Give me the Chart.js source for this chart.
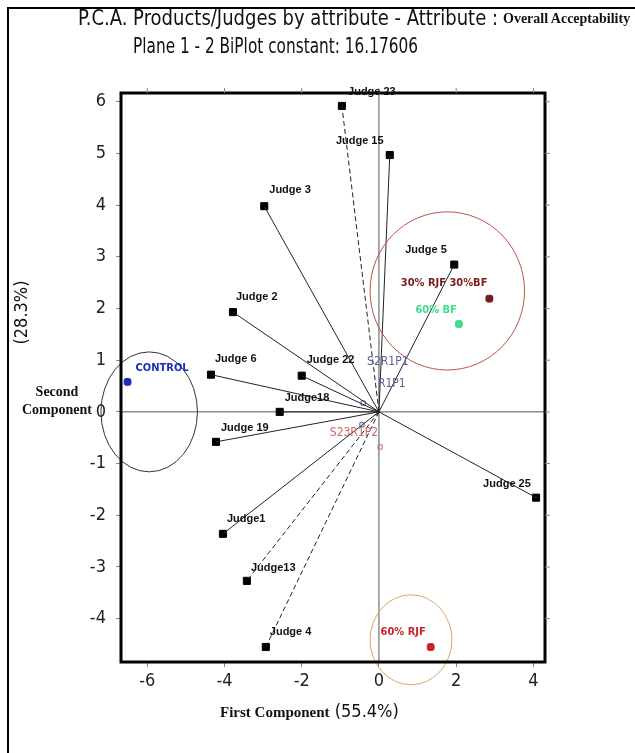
<!DOCTYPE html>
<html>
<head>
<meta charset="utf-8">
<script src="https://cdn.jsdelivr.net/npm/chart.js@4.4.0/dist/chart.umd.min.js"></script>
<style>
  body { margin: 0; background: #fff; width: 635px; height: 753px; overflow: hidden; position: relative; }
  #frame { position: absolute; left: 7px; top: 7px; width: 700px; height: 800px; border-left: 2px solid #000; border-top: 2px solid #000; }
  #wrap { position: absolute; left: 0; top: 0; width: 635px; height: 753px; }
  .t { position: absolute; white-space: nowrap; font-family: "DejaVu Sans Condensed", "Liberation Sans", Arial, sans-serif; color: #111; }
  .serif { font-family: "Liberation Serif", "DejaVu Serif", serif; font-weight: bold; color: #111; }
  .fit { transform-origin: left center; }
</style>
</head>
<body>
<div id="frame"></div>
<div id="wrap"><canvas id="c" width="635" height="753"></canvas></div>

<div class="t fit" data-w="420" style="left:78px;top:5px;font-size:22px">P.C.A. Products/Judges by attribute - Attribute :</div>
<div class="serif" style="position:absolute;left:503px;top:11px;font-size:14px;white-space:nowrap">Overall Acceptability</div>
<div class="t fit" data-w="285" style="left:133px;top:33px;font-size:22px">Plane 1 - 2 BiPlot constant: 16.17606</div>
<div class="t fit" data-w="62" style="left:-12px;top:302px;font-size:18px;transform-origin:center;transform:rotate(-90deg)">(28.3%)</div>
<div class="serif" style="position:absolute;left:14px;top:383px;width:86px;text-align:center;font-size:14px;line-height:18px">Second<br>Component</div>
<div class="t" style="left:220px;top:700px;font-size:18px"><span class="serif" style="font-size:15px">First Component</span> (55.4%)</div>

<script>
  // ajuste la largeur des titres
  document.querySelectorAll(".fit[data-w]").forEach((el) => {
    if (el.style.transform) return;
    const w = el.getBoundingClientRect().width;
    el.style.transform = "scaleX(" + (Number(el.dataset.w) / w) + ")";
  });

  // Axes
  const xTicks = [-6, -4, -2, 0, 2, 4];
  const yTicks = [-4, -3, -2, -1, 0, 1, 2, 3, 4, 5, 6];

  // Juges (coordonnees sur le plan 1-2)
  const judgeNames = ["Judge 23", "Judge 15", "Judge 3", "Judge 5", "Judge 2", "Judge 6", "Judge 22",
    "Judge18", "Judge 19", "Judge 25", "Judge1", "Judge13", "Judge 4"];
  const judgeX = [-0.96, 0.28, -2.97, 1.95, -3.78, -4.35, -2.0, -2.57, -4.22, 4.07, -4.04, -3.42, -2.93];
  const judgeY = [5.92, 4.97, 3.98, 2.85, 1.93, 0.72, 0.70, 0.0, -0.58, -1.66, -2.36, -3.27, -4.55];

  // Produits
  const productNames = ["CONTROL", "30% RJF 30%BF", "60% BF", "60% RJF"];
  const productX = [-6.51, 2.86, 2.07, 1.34];
  const productY = [0.58, 2.19, 1.70, -4.55];

  // Sessions / repetitions
  const sessionNames = ["S2R1P1", "R1P1", "S23R1P2"];
  const sessionX = [-0.41, -0.44, 0.03];
  const sessionY = [0.17, -0.25, -0.68];

  // Cercles de regroupement (centre x, centre y, rayon x, rayon y)
  const groupCx = [-5.95, 1.77, 0.83];
  const groupCy = [0.0, 2.34, -4.41];
  const groupRx = [1.25, 2.0, 1.06];
  const groupRy = [1.16, 1.53, 0.87];

  const dashedJudges = ["Judge 23", "Judge13", "Judge 4"];
  const productColors = ["#1c2fb0", "#7a1a1a", "#3fdc8c", "#c8232a"];
  const sessionColors = ["#5a5e9c", "#5a5e9c", "#c86a6a"];
  const groupColors = ["#333", "#c0504d", "#d9a866"];

  // decalages des etiquettes (px) : [dx, dy, align]
  const judgeLabelPos = [[30, -14, "center"], [-30, -14, "center"], [5, -16, "left"], [-49, -15, "left"],
    [3, -15, "left"], [4, -16, "left"], [5, -16, "left"], [5, -14, "left"], [5, -14, "left"],
    [-53, -14, "left"], [4, -15, "left"], [4, -13, "left"], [4, -15, "left"]];
  const productLabelPos = [[8, -14, "left"], [-2, -16, "right"], [-2, -14, "right"], [-5, -15, "right"]];
  const sessionLabelPos = [[4, -41, "left"], [16, -41, "left"], [-2, -14, "right"]];

  const datasets = [];

  // Vecteurs depuis l'origine vers chaque juge
  judgeNames.forEach((name, i) => {
    datasets.push({
      type: "line",
      data: [{ x: 0, y: 0 }, { x: judgeX[i], y: judgeY[i] }],
      borderColor: "#222",
      borderWidth: 1,
      borderDash: dashedJudges.includes(name) ? [5, 3] : [],
      pointRadius: 0,
      showLine: true,
    });
  });

  const JUDGES = datasets.length;
  datasets.push({
    data: judgeX.map((x, i) => ({ x: x, y: judgeY[i] })),
    pointStyle: "rect",
    pointRadius: 5,
    backgroundColor: "#000",
    borderColor: "#000",
  });

  const PRODUCTS = datasets.length;
  datasets.push({
    data: productX.map((x, i) => ({ x: x, y: productY[i] })),
    pointStyle: "rectRounded",
    pointRadius: 4,
    backgroundColor: productColors,
    borderColor: productColors,
  });

  const SESSIONS = datasets.length;
  datasets.push({
    data: sessionX.map((x, i) => ({ x: x, y: sessionY[i] })),
    pointStyle: "rect",
    pointRadius: 3,
    backgroundColor: "rgba(0,0,0,0)",
    borderColor: sessionColors,
    borderWidth: 1,
  });

  function drawLabels(ctx, meta, names, pos, colors, font) {
    ctx.font = font;
    ctx.textBaseline = "middle";
    names.forEach((n, i) => {
      const p = meta.data[i];
      ctx.fillStyle = Array.isArray(colors) ? colors[i] : colors;
      ctx.textAlign = pos[i][2];
      ctx.fillText(n, p.x + pos[i][0], p.y + pos[i][1]);
    });
  }

  const biplot = {
    id: "biplot",
    beforeDatasetsDraw(chart) {
      const { ctx, chartArea: a, scales: { x, y } } = chart;
      ctx.save();
      // axes du plan
      ctx.strokeStyle = "#555";
      ctx.lineWidth = 1;
      ctx.beginPath();
      ctx.moveTo(x.getPixelForValue(0), a.top);
      ctx.lineTo(x.getPixelForValue(0), a.bottom);
      ctx.moveTo(a.left, y.getPixelForValue(0));
      ctx.lineTo(a.right, y.getPixelForValue(0));
      ctx.stroke();
      ctx.restore();
    },
    afterDraw(chart) {
      const { ctx, chartArea: a, scales: { x, y } } = chart;
      ctx.save();
      // cercles
      groupCx.forEach((cx, i) => {
        const px = x.getPixelForValue(cx), py = y.getPixelForValue(groupCy[i]);
        const rx = Math.abs(x.getPixelForValue(cx + groupRx[i]) - px);
        const ry = Math.abs(y.getPixelForValue(groupCy[i] + groupRy[i]) - py);
        ctx.strokeStyle = groupColors[i];
        ctx.lineWidth = 1;
        ctx.beginPath();
        ctx.ellipse(px, py, rx, ry, 0, 0, Math.PI * 2);
        ctx.stroke();
      });
      // cadre
      ctx.strokeStyle = "#000";
      ctx.lineWidth = 3;
      ctx.strokeRect(a.left, a.top, a.right - a.left, a.bottom - a.top);
      // graduations haut et droite
      ctx.strokeStyle = "#888";
      ctx.lineWidth = 1;
      ctx.beginPath();
      xTicks.forEach((v) => {
        const px = x.getPixelForValue(v);
        ctx.moveTo(px, a.top - 5);
        ctx.lineTo(px, a.top);
      });
      yTicks.forEach((v) => {
        const py = y.getPixelForValue(v);
        ctx.moveTo(a.right, py);
        ctx.lineTo(a.right + 5, py);
      });
      ctx.stroke();
      // etiquettes
      drawLabels(ctx, chart.getDatasetMeta(JUDGES), judgeNames, judgeLabelPos, "#111", 'bold 11px "Liberation Sans", Arial, sans-serif');
      drawLabels(ctx, chart.getDatasetMeta(PRODUCTS), productNames, productLabelPos, productColors, 'bold 11px "DejaVu Sans Condensed", "Liberation Sans", sans-serif');
      drawLabels(ctx, chart.getDatasetMeta(SESSIONS), sessionNames, sessionLabelPos, sessionColors, '12px "DejaVu Sans Condensed", sans-serif');
      ctx.restore();
    },
  };

  const tickFont = { family: '"DejaVu Sans Condensed", sans-serif', size: 18 };

  new Chart(document.getElementById("c"), {
    type: "scatter",
    data: { datasets: datasets },
    options: {
      responsive: false,
      animation: false,
      layout: { padding: { top: 93, right: 90, left: 0, bottom: 0 } },
      plugins: { legend: { display: false }, tooltip: { enabled: false } },
      scales: {
        x: {
          min: -6.68,
          max: 4.30,
          afterBuildTicks: (s) => { s.ticks = xTicks.map((v) => ({ value: v })); },
          afterFit: (s) => { s.height = 91; },
          border: { display: false },
          grid: { drawOnChartArea: false, tickLength: 5, color: "#888" },
          ticks: { font: tickFont, color: "#222", padding: 4, maxRotation: 0 },
        },
        y: {
          min: -4.84,
          max: 6.17,
          afterBuildTicks: (s) => { s.ticks = yTicks.map((v) => ({ value: v })); },
          afterFit: (s) => { s.width = 121; },
          border: { display: false },
          grid: { drawOnChartArea: false, tickLength: 5, color: "#888" },
          ticks: { font: tickFont, color: "#222", padding: 10 },
        },
      },
    },
    plugins: [biplot],
  });
</script>
</body>
</html>
